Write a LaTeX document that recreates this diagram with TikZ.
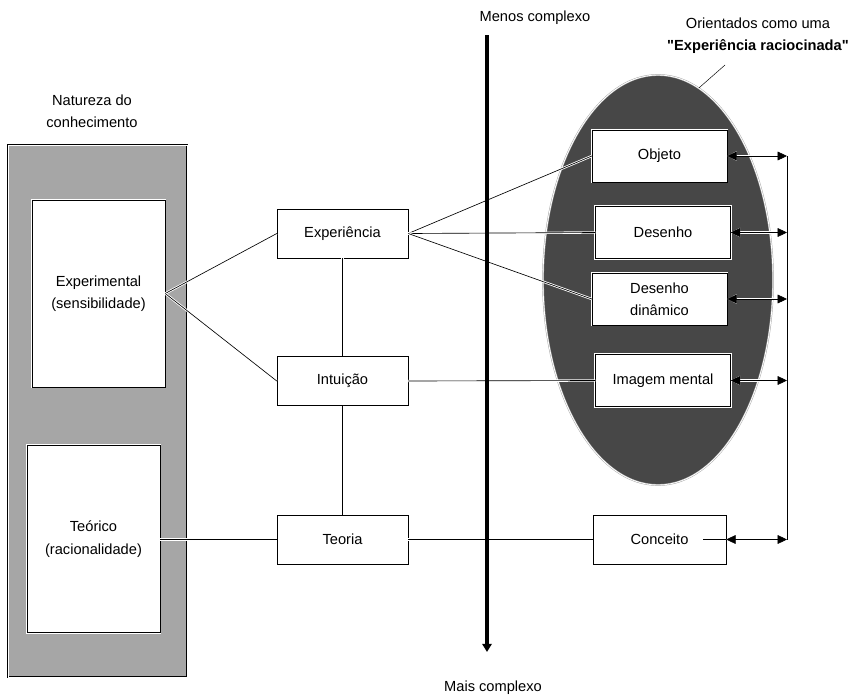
\documentclass[tikz,border=0pt]{standalone}
\usepackage{fontspec}
\setmainfont{Liberation Sans}[Ligatures=TeXOff]
\usetikzlibrary{positioning, arrows.meta, shapes.geometric}

\definecolor{panelGray}{RGB}{166, 166, 166}
\definecolor{ovalGray}{RGB}{71, 71, 71}

\begin{document}
\begin{tikzpicture}[
    x=0.03cm, y=-0.03cm,
    font=\fontsize{12.5}{19}\selectfont,
    box/.style={rectangle, draw, fill=white, minimum width=3.93cm,
                minimum height=1.47cm, align=center},
    obox/.style={box, minimum width=4.05cm, minimum height=1.56cm,
                 preaction={draw=white, line width=2.4pt}},
    kbox/.style={rectangle, draw, fill=white, minimum width=3.99cm,
                 minimum height=5.6cm, align=center,
                 preaction={draw=white, line width=2pt}},
    link/.style={line width=0.55pt, preaction={draw=white, line width=2pt}},
    feed/.style={{Triangle[length=8pt,width=7.5pt]}-{Triangle[length=8pt,width=7.5pt]}},
    axis/.style={-{Triangle[length=7pt,width=8pt]}, line width=3.2pt},
  ]
    \useasboundingbox (0,0) rectangle (861,696);

    % knowledge column
    \node[align=center] (nat) at (92,111) {Natureza do\\conhecimento};
    \node[draw, fill=panelGray, double=white, double distance=0.7pt,
          minimum width=5.37cm, minimum height=15.96cm] (panel) at (97.5,411) {};
    \node[kbox] (expl) at (98.5,293.5) {Experimental\\(sensibilidade)};
    \node[kbox] (teor) at (93.5,539) {Teórico\\(racionalidade)};

    % oval
    \node[ellipse, draw=gray!70, double=white, double distance=0.7pt,
          fill=ovalGray, inner sep=0pt, minimum width=6.9cm,
          minimum height=12.3cm] (oval) at (658,280) {};
    \node[align=center] (orient) at (758,35.5)
      {Orientados como uma\\\textbf{"Experiência raciocinada"}};
    \coordinate (tag) at (725,65);
    \draw (tag) -- (oval.78);

    % middle column
    \node[box] (exp) at (342.5,233.5) {Experiência};
    \node[box] (intu) at (342.5,381) {Intuição};
    \node[box] (teo) at (342.5,539.5) {Teoria};

    % right column
    \node[obox] (obj) at (659.5,156) {Objeto};
    \node[obox] (des) at (663,232.5) {Desenho};
    \node[obox] (dyn) at (659.5,299) {Desenho\\dinâmico};
    \node[obox] (img) at (663,380.5) {Imagem mental};
    \node[box, minimum width=3.99cm] (conc) at (659.5,539.5) {Conceito};

    \draw[link] (expl.east) -- (exp.west);
    \draw[link] (expl.east) -- (intu.west);
    \draw[link] (teor.east |- teo) -- (teo.west);
    \draw[link] (exp) -- (intu);
    \draw[link] (intu) -- (teo);
    \draw[link] (exp.east) -- (obj.west);
    \draw[link] (exp.east) -- (des.west);
    \draw[link] (exp.east) -- (dyn.west);
    \draw[link] (intu.east) -- (img.west);
    \draw[link] (teo.east) -- (conc.west);

    % feedback bus
    \coordinate (busTop) at (787,156);
    \coordinate (busBot) at (787,539.5);
    \draw[line width=0.55pt] (busTop) -- (busBot);
    \foreach \n in {obj, des, dyn, img, conc}
      \draw[feed, link] (\n.east) -- (\n.east -| busTop);
    \draw[line width=0.55pt] (conc.east) -- ++(-23,0);

    % complexity axis
    \node (less) at (535,18) {Menos complexo};
    \node (more) at (493,688) {Mais complexo};
    \coordinate (axTop) at (487,35);
    \coordinate (axBot) at (487,652);
    \draw[axis] (axTop) -- (axBot);
  \end{tikzpicture}
\end{document}
